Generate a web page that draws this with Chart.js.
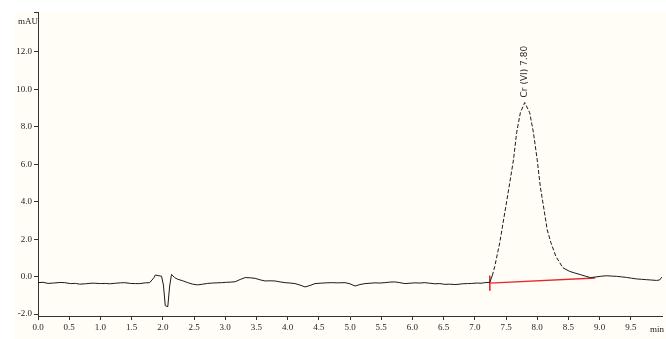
<!DOCTYPE html>
<html>
<head>
<meta charset="utf-8">
<title>Cr (VI) chromatogram</title>
<script src="https://cdn.jsdelivr.net/npm/chart.js@4"></script>
<style>
  html, body { margin: 0; padding: 0; background: #fff; }
  canvas { display: block; }
</style>
</head>
<body>
<canvas id="chrom" width="666" height="339"></canvas>
<script>
// Retention time (min) and detector signal (mAU)
const times = [
  0.00, 0.08, 0.16, 0.25, 0.35, 0.43, 0.52, 0.60, 0.67, 0.76, 0.85, 0.91,
  1.00, 1.08, 1.15, 1.24, 1.32, 1.39, 1.48, 1.56, 1.63, 1.72, 1.79, 1.86,
  1.88, 1.98, 2.01, 2.04, 2.08, 2.11, 2.14, 2.19, 2.24, 2.32, 2.40, 2.48,
  2.56, 2.64, 2.72, 2.80, 2.87, 2.94, 3.02, 3.09, 3.16, 3.24, 3.32, 3.40,
  3.48, 3.56, 3.64, 3.72, 3.80, 3.88, 3.96, 4.04, 4.12, 4.20, 4.28, 4.36,
  4.44, 4.52, 4.62, 4.71, 4.80, 4.92, 5.00, 5.08, 5.16, 5.24, 5.32, 5.40,
  5.48, 5.56, 5.64, 5.72, 5.80, 5.88, 5.96, 6.04, 6.12, 6.20, 6.28, 6.36,
  6.44, 6.52, 6.60, 6.68, 6.73, 6.80, 6.88, 6.95, 7.04, 7.10, 7.16, 7.24,
  7.28, 7.32, 7.40, 7.48, 7.56, 7.62, 7.67, 7.73, 7.80, 7.88, 7.94, 8.00,
  8.05, 8.11, 8.16, 8.22, 8.30, 8.41, 8.52, 8.60, 8.69, 8.77, 8.85, 8.93,
  9.02, 9.11, 9.19, 9.27, 9.35, 9.43, 9.51, 9.59, 9.67, 9.75, 9.83, 9.91,
  9.96, 10.00
];
const signal = [
  -0.32, -0.30, -0.36, -0.34, -0.31, -0.32, -0.37, -0.36, -0.40, -0.38, -0.35, -0.35,
  -0.37, -0.36, -0.38, -0.35, -0.33, -0.32, -0.36, -0.37, -0.37, -0.33, -0.32, -0.05,
  0.09, 0.02, -0.45, -1.55, -1.60, -0.50, 0.12, -0.05, -0.14, -0.22, -0.32, -0.40,
  -0.44, -0.40, -0.36, -0.34, -0.33, -0.32, -0.30, -0.29, -0.27, -0.15, -0.05, -0.06,
  -0.09, -0.17, -0.23, -0.22, -0.23, -0.28, -0.32, -0.34, -0.37, -0.45, -0.55, -0.47,
  -0.37, -0.35, -0.33, -0.32, -0.33, -0.32, -0.38, -0.50, -0.42, -0.37, -0.35, -0.33,
  -0.34, -0.32, -0.29, -0.28, -0.32, -0.37, -0.35, -0.33, -0.34, -0.32, -0.35, -0.38,
  -0.37, -0.41, -0.40, -0.42, -0.41, -0.38, -0.37, -0.36, -0.34, -0.35, -0.32, -0.30,
  0.05, 0.55, 1.81, 3.41, 5.01, 6.24, 7.68, 8.75, 9.30, 8.75, 7.68, 6.24,
  4.80, 3.57, 2.51, 1.81, 1.08, 0.48, 0.28, 0.20, 0.11, 0.03, -0.05, -0.02,
  0.02, 0.05, 0.03, 0.02, -0.01, -0.04, -0.08, -0.12, -0.14, -0.16, -0.18, -0.20,
  -0.18, -0.02
];

// Integration baseline under the peak and the start marker
const baseTimes = [7.24, 8.93];
const baseValues = [-0.34, -0.07];
const markerValues = [0.05, -0.75];

// Peak annotation
const peakName = 'Cr (VI)';
const peakTime = 7.80;
const peakHeight = 9.30;

// Axis ticks
const xTicks = [0, 0.5, 1, 1.5, 2, 2.5, 3, 3.5, 4, 4.5, 5, 5.5, 6, 6.5, 7, 7.5, 8, 8.5, 9, 9.5];
const yTicks = [-2, 0, 2, 4, 6, 8, 10, 12];
const yMin = -2.1;
const yMax = 14.13;

const labelFont = { family: 'Liberation Serif', size: 9 };

const backdrop = {
  id: 'backdrop',
  beforeDraw(chart) {
    const c = chart.ctx;
    c.save();
    c.fillStyle = '#ffffff';
    c.fillRect(0, 0, chart.width, chart.height);
    c.fillStyle = '#fffdf6';
    c.fillRect(14, 12, chart.width - 14, chart.height - 12);
    c.restore();
  }
};

const annotations = {
  id: 'annotations',
  afterDatasetsDraw(chart) {
    const c = chart.ctx;
    const { x, y } = chart.scales;
    c.save();
    c.fillStyle = '#2a2a2a';
    // rotated peak label above the apex
    c.font = '9px "DejaVu Sans"';
    c.translate(x.getPixelForValue(peakTime), y.getPixelForValue(peakHeight) - 5);
    c.rotate(-Math.PI / 2);
    c.textAlign = 'left';
    c.textBaseline = 'middle';
    c.fillText(peakName + ' ' + peakTime.toFixed(2), 0, 0);
    c.restore();

    c.save();
    c.fillStyle = '#222';
    c.font = '9px "Liberation Serif"';
    c.textBaseline = 'middle';
    c.textAlign = 'left';
    c.fillText('mAU', 18, 22);
    c.fillText('min', 650, 330);
    c.restore();
  }
};

new Chart(document.getElementById('chrom'), {
  type: 'line',
  data: {
    datasets: [
      {
        data: times.map((t, i) => ({ x: t, y: signal[i] })),
        borderColor: '#1a1a1a',
        borderWidth: 1,
        pointRadius: 0,
        tension: 0,
        segment: {
          borderDash: ctx => Math.abs(ctx.p1.parsed.y - ctx.p0.parsed.y) > 0.45 &&
            ctx.p0.parsed.x > 7 ? [4, 2] : undefined
        }
      },
      {
        data: baseTimes.map((t, i) => ({ x: t, y: baseValues[i] })),
        borderColor: '#e8272d',
        borderWidth: 1.3,
        pointRadius: 0
      },
      {
        data: markerValues.map(v => ({ x: baseTimes[0], y: v })),
        borderColor: '#e8272d',
        borderWidth: 1,
        pointRadius: 0
      }
    ]
  },
  options: {
    responsive: false,
    animation: false,
    events: [],
    layout: { padding: { top: 12, right: 4, left: 0, bottom: 0 } },
    plugins: {
      legend: { display: false },
      tooltip: { enabled: false }
    },
    scales: {
      x: {
        type: 'linear',
        min: 0,
        max: 10,
        afterFit: s => { s.height = 23; },
        afterBuildTicks: s => { s.ticks = xTicks.map(v => ({ value: v })); },
        border: { display: true, color: '#333', width: 1 },
        grid: { drawOnChartArea: false, drawTicks: true, tickLength: 4, color: '#333' },
        ticks: {
          font: labelFont,
          color: '#222',
          padding: 2,
          maxRotation: 0,
          autoSkip: false,
          callback: v => v.toFixed(1)
        }
      },
      y: {
        type: 'linear',
        min: yMin,
        max: yMax,
        afterFit: s => { s.width = 38; },
        afterBuildTicks: s => { s.ticks = yTicks.concat([yMax]).map(v => ({ value: v })); },
        border: { display: true, color: '#333', width: 1 },
        grid: { drawOnChartArea: false, drawTicks: true, tickLength: 4, color: '#333' },
        ticks: {
          font: labelFont,
          color: '#222',
          padding: 2,
          autoSkip: false,
          callback: v => yTicks.includes(v) ? v.toFixed(1) : ''
        }
      }
    }
  },
  plugins: [backdrop, annotations]
});
</script>
</body>
</html>
